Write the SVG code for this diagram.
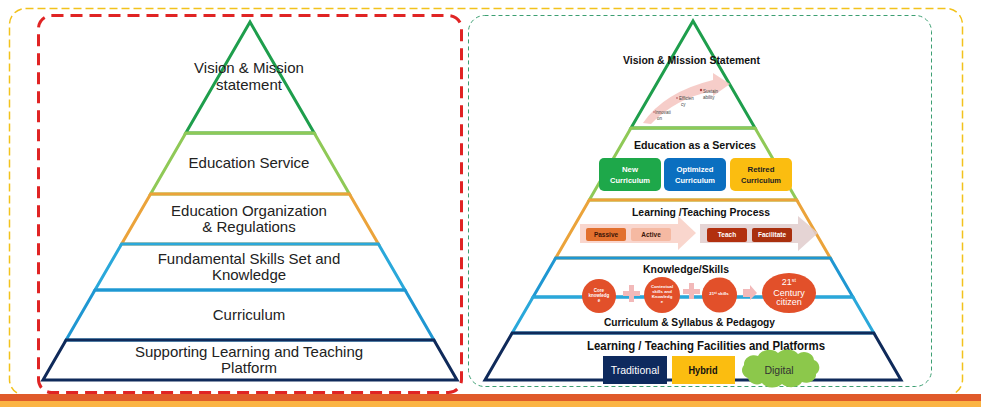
<svg xmlns="http://www.w3.org/2000/svg" width="981" height="407" viewBox="0 0 981 407">
<style>
.lt{font-family:"Liberation Sans",Arial,sans-serif;font-size:15px;fill:#222;text-anchor:middle}
.hd{font-family:"Liberation Sans",Arial,sans-serif;font-weight:bold;fill:#111;text-anchor:middle}
.sm{font-family:"Liberation Sans",Arial,sans-serif;font-weight:bold;text-anchor:middle}
.tiny{font-family:"Liberation Sans",Arial,sans-serif;font-size:4.5px;fill:#444}
.seg{fill:none;stroke-width:3;stroke-linejoin:miter}
.g1{stroke:#1e9e4c}.g2{stroke:#8fc957}.o{stroke:#eba33a}.b1{stroke:#2aa8da}.b2{stroke:#1f97d2}.n{stroke:#0f2a5a}
</style>
<rect width="981" height="407" fill="#ffffff"/>
<!-- frames -->
<g id="frames">
<rect x="9.5" y="8.5" width="953" height="387" rx="16" fill="none" stroke="#f2c21c" stroke-width="1.5" stroke-dasharray="8 4"/>
<rect x="38.5" y="15.5" width="423" height="377" rx="13" fill="none" stroke="#e02424" stroke-width="3" stroke-dasharray="12 7"/>
<rect x="468.5" y="15.5" width="463" height="371" rx="16" fill="none" stroke="#3c9f72" stroke-width="1" stroke-dasharray="4 3"/>
</g>
<!-- left pyramid -->
<g id="left-pyramid">
<polygon class="seg g1" points="250,22 314.2,133 185.8,133"/>
<polygon class="seg g2" points="185.8,133 314.2,133 349.4,194 150.6,194"/>
<polygon class="seg o" points="150.6,194 349.4,194 378.4,244 121.6,244"/>
<polygon class="seg b1" points="121.6,244 378.4,244 405,290 95,290"/>
<polygon class="seg b2" points="95,290 405,290 433.9,340 66.1,340"/>
<polygon class="seg n" points="66.1,340 433.9,340 457,380 43,380"/>
</g>
<g id="l-vision"><text class="lt" x="249" y="73" font-size="16">Vision &amp; Mission</text><text class="lt" x="249" y="90" font-size="16">statement</text></g>
<g id="l-service"><text class="lt" x="249" y="168" font-size="14">Education Service</text></g>
<g id="l-org"><text class="lt" x="249" y="216">Education Organization</text><text class="lt" x="249" y="232">&amp; Regulations</text></g>
<g id="l-skills"><text class="lt" x="249" y="264">Fundamental Skills Set and</text><text class="lt" x="249" y="280">Knowledge</text></g>
<g id="l-curriculum"><text class="lt" x="249" y="320">Curriculum</text></g>
<g id="l-platform"><text class="lt" x="249" y="357">Supporting Learning and Teaching</text><text class="lt" x="249" y="373">Platform</text></g>
<!-- right pyramid -->
<g id="right-pyramid">
<polygon class="seg g1" points="693,21 755,128 631,128"/>
<polygon class="seg g2" points="631,128 755,128 796.7,200 589.3,200"/>
<polygon class="seg o" points="589.3,200 796.7,200 830.3,258 555.7,258"/>
<polygon class="seg b2" points="555.7,258 830.3,258 852.9,297 533.1,297"/>
<polygon class="seg b1" points="533.1,297 852.9,297 873.8,333 512.2,333"/>
<polygon class="seg n" points="512.2,333 873.8,333 901,380 485,380"/>
</g>
<g id="r-vision">
<text class="hd" x="691.5" y="64" font-size="11" textLength="137" lengthAdjust="spacingAndGlyphs">Vision &amp; Mission Statement</text>
<path d="M643,123 Q664,92 713,80 L713,73 L730,84 L713,96 L713,91 Q676,98 651,124 Z" fill="#f4c4c0" opacity="0.85"/>
<circle cx="701" cy="90" r="1.2" fill="#b04040"/><circle cx="677" cy="98" r="0.8" fill="#b04040"/><circle cx="654" cy="112" r="0.7" fill="#b04040"/>
<text class="tiny" x="703" y="93">Sustain</text><text class="tiny" x="703" y="99">ability</text>
<text class="tiny" x="679" y="100">Efficien</text><text class="tiny" x="681" y="106">cy</text>
<text class="tiny" x="655" y="114">Innovati</text><text class="tiny" x="657" y="120">on</text>
</g>
<g id="r-service">
<text class="hd" x="695" y="149" font-size="11.5" textLength="122" lengthAdjust="spacingAndGlyphs">Education  as a Services</text>
<rect x="599" y="158" width="62" height="33" rx="5" fill="#1ea84a"/>
<rect x="664" y="158" width="62" height="33" rx="5" fill="#0b6fc0"/>
<rect x="730" y="158" width="62" height="33" rx="5" fill="#fbbd10"/>
<text class="sm" x="630" y="172" font-size="8" fill="#fff" textLength="16" lengthAdjust="spacingAndGlyphs">New</text>
<text class="sm" x="630" y="183" font-size="8" fill="#fff" textLength="40" lengthAdjust="spacingAndGlyphs">Curriculum</text>
<text class="sm" x="695" y="172" font-size="8" fill="#fff" textLength="37" lengthAdjust="spacingAndGlyphs">Optimized</text>
<text class="sm" x="695" y="183" font-size="8" fill="#fff" textLength="40" lengthAdjust="spacingAndGlyphs">Curriculum</text>
<text class="sm" x="761" y="172" font-size="8" fill="#222" textLength="27" lengthAdjust="spacingAndGlyphs">Retired</text>
<text class="sm" x="761" y="183" font-size="8" fill="#222" textLength="40" lengthAdjust="spacingAndGlyphs">Curriculum</text>
</g>
<g id="r-process">
<text class="hd" x="701" y="216" font-size="11.5" textLength="138" lengthAdjust="spacingAndGlyphs">Learning /Teaching Process</text>
<polygon points="580,224 678,224 678,216 696,233 678,250 678,243 580,243" fill="#f8d2c8" opacity="0.9"/>
<polygon points="700,224 798,224 798,216 818,233 798,251 798,243 700,243" fill="#e0cccc" opacity="0.85"/>
<rect x="586" y="228" width="40" height="13" rx="2" fill="#e2702e"/>
<rect x="631" y="228" width="40" height="13" rx="2" fill="#f5b9a2"/>
<rect x="707" y="228" width="40" height="14" rx="2" fill="#b2300f"/>
<rect x="752" y="228" width="40" height="14" rx="2" fill="#a9300e"/>
<text class="sm" x="606" y="237" font-size="6.5" fill="#3a1508">Passive</text>
<text class="sm" x="651" y="237" font-size="6.5" fill="#3a1508">Active</text>
<text class="sm" x="727" y="237" font-size="6.5" fill="#fff">Teach</text>
<text class="sm" x="772" y="237" font-size="6.5" fill="#fff">Facilitate</text>
</g>
<g id="r-knowledge">
<text class="hd" x="686" y="273" font-size="11.5" textLength="86" lengthAdjust="spacingAndGlyphs">Knowledge/Skills</text>
<circle cx="599" cy="296" r="17" fill="#e2502a"/>
<path d="M629,285h5v6h6v5h-6v6h-5v-6h-6v-5h6z" fill="#f2b9b9"/>
<circle cx="662" cy="295" r="18" fill="#e2502a"/>
<path d="M689,283h5v6h6v5h-6v5h-5v-5h-6v-5h6z" fill="#f2b9b9"/>
<circle cx="719.5" cy="295" r="17.5" fill="#e2502a"/>
<polygon points="743,289 750,289 750,285 757,293 750,300 750,297 743,297" fill="#f2b9b9"/>
<ellipse cx="789" cy="293" rx="27" ry="20" fill="#e2502a"/>
<text class="sm" x="599" y="292" font-size="4.5" fill="#fff">Core</text>
<text class="sm" x="599" y="297" font-size="4.5" fill="#fff">knowledg</text>
<text class="sm" x="599" y="302" font-size="4.5" fill="#fff">e</text>
<text class="sm" x="662" y="288" font-size="4.3" fill="#fff">Contextual</text>
<text class="sm" x="662" y="293" font-size="4.3" fill="#fff">skills and</text>
<text class="sm" x="662" y="298" font-size="4.3" fill="#fff">Knowledg</text>
<text class="sm" x="662" y="303" font-size="4.3" fill="#fff">e</text>
<text class="sm" x="719" y="295" font-size="4.3" fill="#fff">21<tspan font-size="3" dy="-1.5">st</tspan><tspan dy="1.5"> skills</tspan></text>
<text x="789" y="285" font-family="Liberation Sans,Arial,sans-serif" font-size="9" fill="#fff" text-anchor="middle">21<tspan font-size="5.5" dy="-3.5">st</tspan></text>
<text x="789" y="295.5" font-family="Liberation Sans,Arial,sans-serif" font-size="9" fill="#fff" text-anchor="middle">Century</text>
<text x="789" y="305" font-family="Liberation Sans,Arial,sans-serif" font-size="9" fill="#fff" text-anchor="middle">citizen</text>
</g>
<g id="r-curriculum">
<text class="hd" x="689.5" y="326" font-size="11.5" textLength="171" lengthAdjust="spacingAndGlyphs">Curriculum &amp; Syllabus &amp; Pedagogy</text>
</g>
<g id="r-platform">
<text class="hd" x="706" y="350" font-size="12.5" textLength="238" lengthAdjust="spacingAndGlyphs">Learning / Teaching Facilities and Platforms</text>
<rect x="603" y="356" width="64" height="28" fill="#0e2a5e"/>
<rect x="672" y="356" width="63" height="28" fill="#fbbd10"/>
<path d="M748,378 a8,8 0 0 1 -4,-13 a10,9 0 0 1 14,-9 a12,10 0 0 1 20,-3 a12,9 0 0 1 20,1 a10,9 0 0 1 16,6 a8,8 0 0 1 2,14 a10,8 0 0 1 -14,8 a12,9 0 0 1 -20,2 a12,9 0 0 1 -20,-1 a9,8 0 0 1 -14,-5 Z" fill="#8cc84b"/>
<text x="635" y="374" font-family="Liberation Sans,Arial,sans-serif" font-size="10.5" fill="#fff" text-anchor="middle">Traditional</text>
<text class="sm" x="703" y="374" font-size="10" fill="#111" textLength="29" lengthAdjust="spacingAndGlyphs">Hybrid</text>
<text x="779" y="374" font-family="Liberation Sans,Arial,sans-serif" font-size="10.5" fill="#333" text-anchor="middle">Digital</text>
</g>
<!-- bottom band -->
<g id="band">
<rect x="0" y="394" width="981" height="7" fill="#e05a2a"/>
<rect x="0" y="401" width="981" height="6" fill="#fbb443"/>
</g>
</svg>
